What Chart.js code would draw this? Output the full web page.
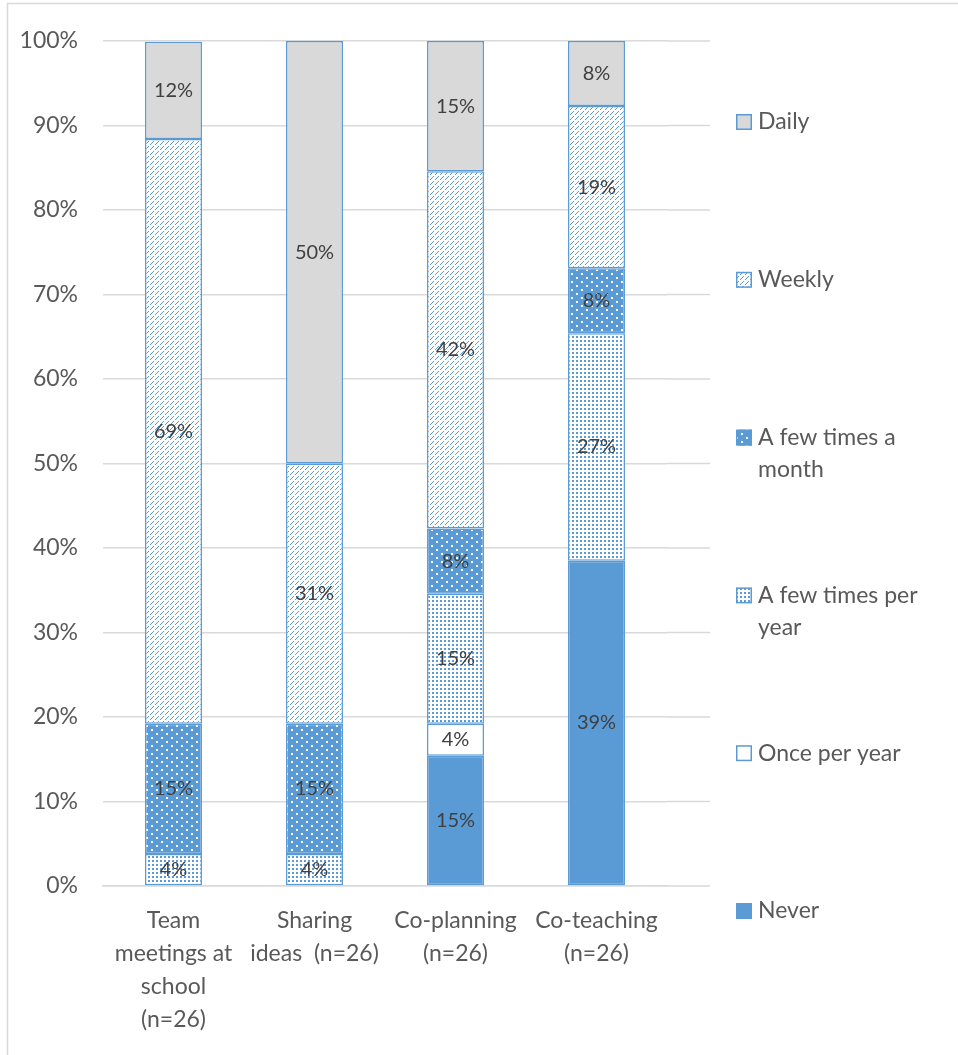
<!DOCTYPE html>
<html>
<head>
<meta charset="utf-8">
<script src="https://cdn.jsdelivr.net/npm/chart.js@4"></script>
<style>
  body { margin: 0; background: #fff; }
  #wrap { width: 958px; height: 1055px; position: relative; }
</style>
</head>
<body>
<div id="wrap"><canvas id="freqChart"></canvas></div>
<script>
// categories (multi-line tick labels)
const categories = [
  ['Team', 'meetings at', 'school', '(n=26)'],
  ['Sharing', 'ideas  (n=26)'],
  ['Co-planning', '(n=26)'],
  ['Co-teaching', '(n=26)']
];

// series values, percent of respondents (bottom of stack first)
const never     = [0,    0,    15.4, 38.5];
const oncePerYr = [0,    0,    3.8,  0];
const fewPerYr  = [3.8,  3.8,  15.4, 26.9];
const fewPerMo  = [15.4, 15.4, 7.7,  7.7];
const weekly    = [69.2, 30.8, 42.3, 19.2];
const daily     = [11.5, 50.0, 15.4, 7.7];

const seriesNames = ['Never', 'Once per year', 'A few times per year', 'A few times a month', 'Weekly', 'Daily'];
const yTicks = [0, 10, 20, 30, 40, 50, 60, 70, 80, 90, 100];

const BLUE = '#5B9BD5';
const GRAY = '#D9D9D9';
const TEXT = '#595959';
const FONT = 'Lato, "Open Sans", sans-serif';

function makePattern(kind) {
  const c = document.createElement('canvas');
  const ctx = c.getContext('2d');
  if (kind === 'weekly') {
    // dashed upward diagonal
    c.width = 5; c.height = 5;
    ctx.fillStyle = '#fff'; ctx.fillRect(0, 0, 5, 5);
    ctx.fillStyle = BLUE;
    for (let i = 0; i < 4; i++) ctx.fillRect(i, 4 - i, 1, 1);
  } else if (kind === 'fewMonth') {
    c.width = 10; c.height = 8;
    ctx.fillStyle = BLUE; ctx.fillRect(0, 0, 10, 8);
    ctx.fillStyle = '#fff';
    ctx.fillRect(1, 1, 2, 2);
    ctx.fillRect(6, 5, 2, 2);
  } else if (kind === 'fewYear') {
    c.width = 4; c.height = 4;
    ctx.fillStyle = '#fff'; ctx.fillRect(0, 0, 4, 4);
    ctx.fillStyle = BLUE;
    ctx.fillRect(0, 0, 2, 2);
  }
  return ctx.createPattern(c, 'repeat');
}

const fills = [BLUE, '#ffffff', makePattern('fewYear'), makePattern('fewMonth'), makePattern('weekly'), GRAY];
const values = [never, oncePerYr, fewPerYr, fewPerMo, weekly, daily];

const datasets = seriesNames.map((name, i) => ({
  label: name,
  data: values[i],
  backgroundColor: fills[i],
  borderColor: BLUE,
  borderWidth: 1.5,
  borderSkipped: false,
  categoryPercentage: 1,
  barPercentage: 0.404
}));

// the plot area in the original runs a bit past the last category
const gridExtend = {
  id: 'gridExtend',
  beforeDatasetsDraw(chart) {
    const ctx = chart.ctx;
    const y = chart.scales.y;
    ctx.save();
    ctx.strokeStyle = GRAY;
    ctx.lineWidth = 1.5;
    yTicks.forEach(v => {
      const py = y.getPixelForValue(v);
      ctx.beginPath();
      ctx.moveTo(chart.chartArea.right, py);
      ctx.lineTo(710, py);
      ctx.stroke();
    });
    ctx.restore();
  }
};

// percentage labels in the middle of each segment
const segmentLabels = {
  id: 'segmentLabels',
  afterDatasetsDraw(chart) {
    const ctx = chart.ctx;
    ctx.save();
    ctx.font = '20px ' + FONT;
    ctx.fillStyle = '#404040';
    ctx.textAlign = 'center';
    ctx.textBaseline = 'middle';
    chart.data.datasets.forEach((ds, i) => {
      chart.getDatasetMeta(i).data.forEach((bar, j) => {
        const v = ds.data[j];
        if (!v) return;
        ctx.fillText(Math.round(v) + '%', bar.x, (bar.y + bar.base) / 2);
      });
    });
    ctx.restore();
  }
};

// legend on the right, Daily on top, evenly spread
const sideLegend = {
  id: 'sideLegend',
  afterDraw(chart) {
    const ctx = chart.ctx;
    ctx.save();
    ctx.font = '23px ' + FONT;
    ctx.textBaseline = 'middle';
    ctx.textAlign = 'left';
    const boxX = 736, textX = 758, maxW = 190;
    const startY = 122, step = 157.8;
    const order = chart.data.datasets.slice().reverse();
    order.forEach((ds, k) => {
      const y = startY + k * step;
      ctx.fillStyle = ds.backgroundColor;
      ctx.fillRect(boxX, y - 8, 16, 16);
      ctx.strokeStyle = BLUE;
      ctx.lineWidth = 1.5;
      ctx.strokeRect(boxX + 0.75, y - 7.25, 14.5, 14.5);
      const words = ds.label.split(' ');
      const lines = [];
      let line = '';
      words.forEach(w => {
        const test = line ? line + ' ' + w : w;
        if (ctx.measureText(test).width > maxW && line) {
          lines.push(line);
          line = w;
        } else {
          line = test;
        }
      });
      lines.push(line);
      ctx.fillStyle = TEXT;
      lines.forEach((l, n) => ctx.fillText(l, textX, y + n * 32));
    });
    ctx.restore();
  }
};

const outerBorder = {
  id: 'outerBorder',
  afterDraw(chart) {
    const ctx = chart.ctx;
    ctx.save();
    ctx.strokeStyle = GRAY;
    ctx.lineWidth = 1.5;
    ctx.strokeRect(7.5, 3.5, 960, 1060);
    ctx.restore();
  }
};

new Chart(document.getElementById('freqChart'), {
  type: 'bar',
  data: { labels: categories, datasets: datasets },
  options: {
    responsive: true,
    maintainAspectRatio: false,
    animation: false,
    layout: { padding: { left: 0, top: 41, right: 291, bottom: 0 } },
    plugins: {
      legend: { display: false },
      tooltip: { enabled: false }
    },
    scales: {
      x: {
        stacked: true,
        grid: { display: false, drawTicks: false },
        border: { color: GRAY, width: 1.5 },
        ticks: {
          autoSkip: false,
          maxRotation: 0,
          minRotation: 0,
          padding: 18,
          color: TEXT,
          font: { family: FONT, size: 23, lineHeight: 1.43 }
        },
        afterFit(scale) { scale.height = 169; }
      },
      y: {
        stacked: true,
        min: 0,
        max: 100,
        afterBuildTicks(scale) { scale.ticks = yTicks.map(v => ({ value: v })); },
        grid: { color: GRAY, lineWidth: 1.5, drawTicks: false },
        border: { display: false },
        ticks: {
          padding: 25,
          color: TEXT,
          font: { family: FONT, size: 23 },
          callback: v => v + '%'
        },
        afterFit(scale) { scale.width = 103; }
      }
    }
  },
  plugins: [gridExtend, segmentLabels, sideLegend, outerBorder]
});
</script>
</body>
</html>
